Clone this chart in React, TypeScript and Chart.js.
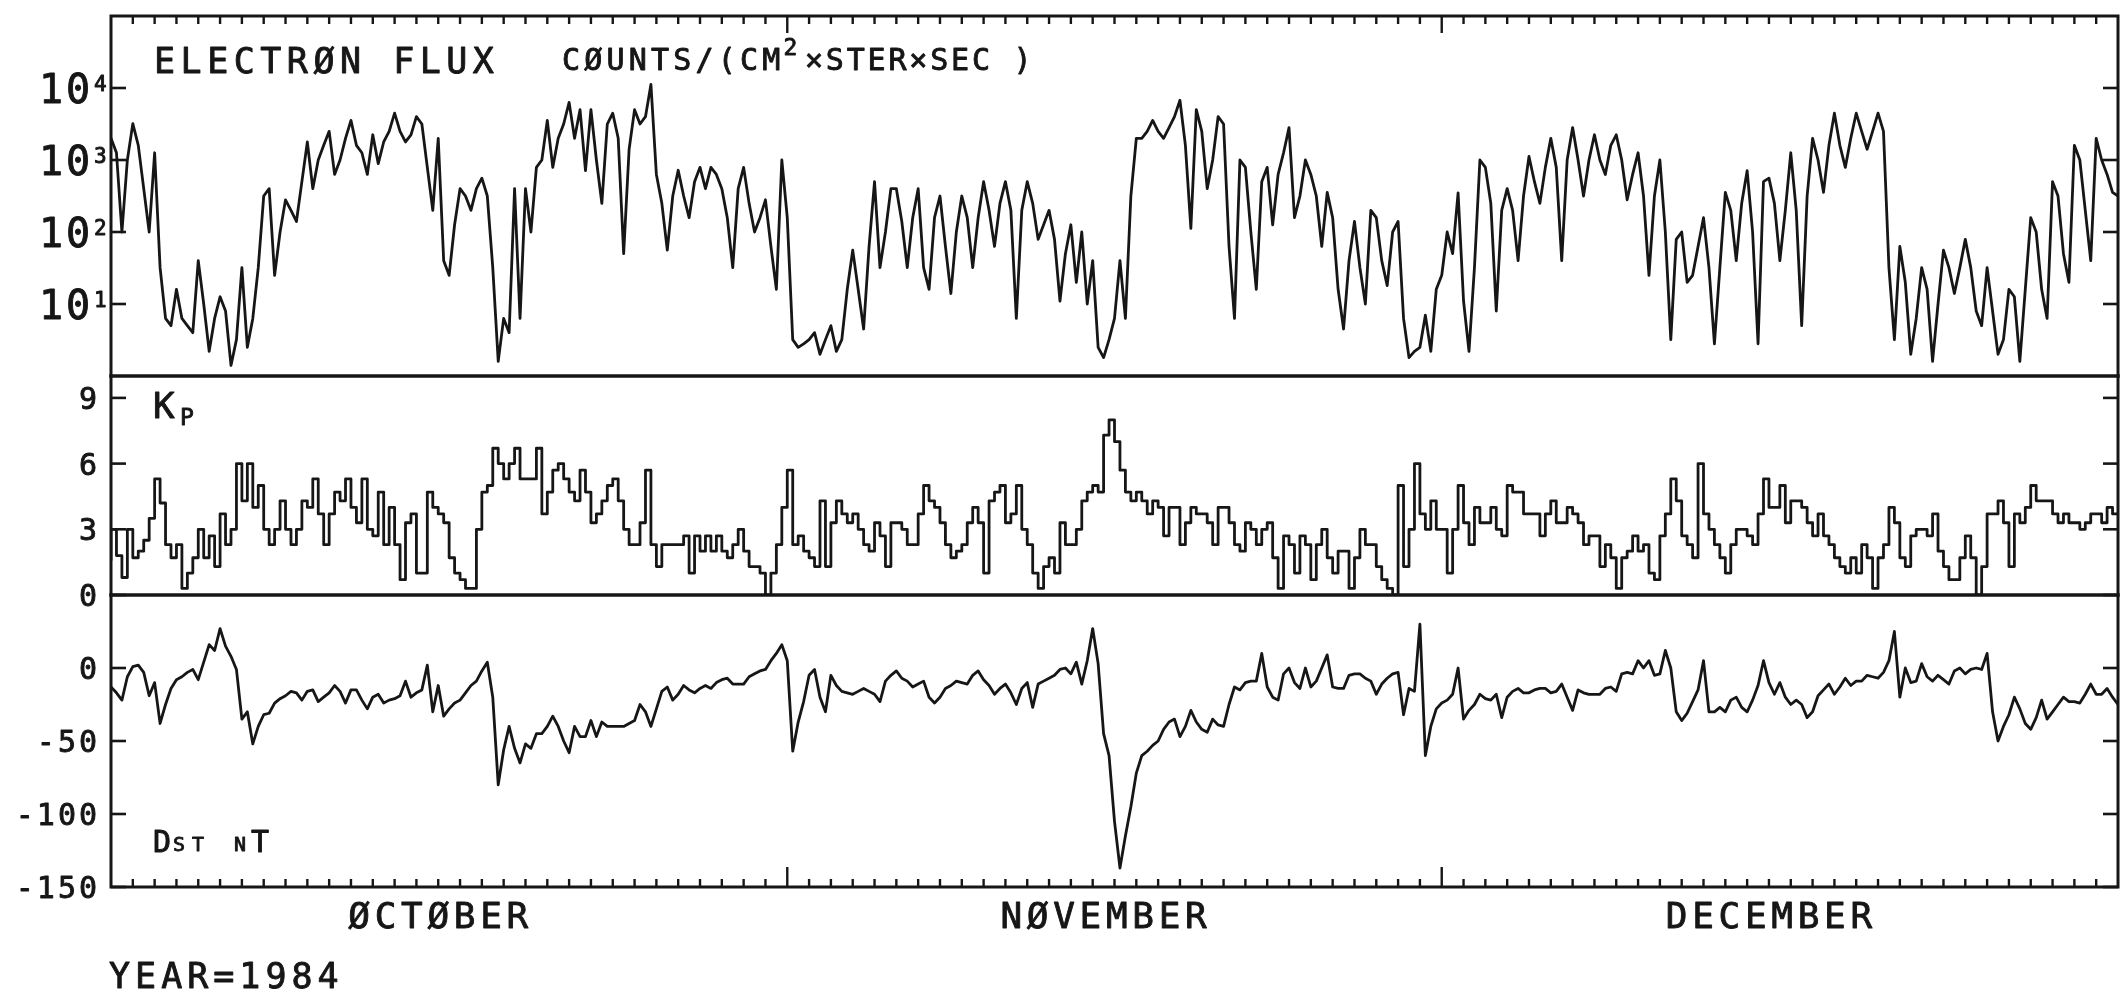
import { useEffect, useRef } from "react";
import { Chart, registerables } from "chart.js";

Chart.register(...registerables);

// ---------------- data ----------------
// one sample every 6 hours, starting 1984-10-01 00:00
const SAMPLES_PER_DAY = 4;
const YEAR_LABEL = "YEAR=1984";
const MONTHS = ["ØCTØBER", "NØVEMBER", "DECEMBER"];
const MONTH_START_DAY = [0, 31, 61];
const MONTH_LENGTH = [31, 30, 31];

const FLUX_TICKS = [10, 100, 1000, 10000];
const FLUX_TICK_BASE = ["10", "10", "10", "10"];
const FLUX_TICK_EXP = ["1", "2", "3", "4"];
const KP_TICKS = [0, 3, 6, 9];
const DST_TICKS = [0, -50, -100, -150];

// Electron flux, counts/(cm2 ster sec)
const fluxValues = [
  2000, 1260, 100, 1000, // Oct 1
  3200, 1600, 400, 100,
  1260, 32, 6.3, 5,
  16, 6.3, 5, 4,
  40, 10, 2.2, 6.3,
  12.6, 8, 1.4, 3.2,
  32, 2.5, 6.3, 32,
  316, 400, 25, 100,
  280, 200, 140, 500,
  1780, 400, 1000, 1600,
  2500, 630, 1000, 2000, // Oct 11
  3550, 1600, 1260, 630,
  2240, 890, 1780, 2500,
  4470, 2500, 1780, 2240,
  4000, 3160, 790, 200,
  2000, 40, 25, 126,
  400, 316, 200, 400,
  560, 316, 32, 1.6,
  6.3, 4, 400, 6.3,
  400, 100, 790, 1000,
  3550, 790, 2000, 3160, // Oct 21
  6300, 2000, 5000, 710,
  5000, 1000, 250, 3160,
  4470, 2000, 50, 1410,
  5000, 3160, 4000, 11200,
  630, 250, 56, 316,
  720, 316, 158, 500,
  790, 400, 790, 630,
  400, 158, 32, 400,
  790, 250, 100, 158,
  280, 63, 16, 1000, // Oct 31
  158, 3.2, 2.5, 2.8, // Nov 1
  3.2, 4, 2, 3.2,
  5, 2.2, 3.2, 16,
  56, 16, 4.5, 63,
  500, 32, 100, 400,
  400, 140, 32, 158,
  400, 32, 16, 158,
  316, 63, 14, 100,
  316, 158, 32, 158,
  500, 200, 63, 250, // Nov 10
  500, 200, 6.3, 200,
  500, 250, 79, 126,
  200, 79, 11, 50,
  126, 20, 100, 10,
  40, 2.5, 1.8, 3.2,
  6.3, 40, 6.3, 316,
  2000, 2000, 2500, 3550,
  2500, 2000, 2820, 4000,
  6760, 1600, 112, 5000,
  2500, 400, 1000, 4000, // Nov 20
  3160, 63, 6.3, 1000,
  790, 100, 16, 500,
  790, 126, 630, 1260,
  2820, 158, 316, 1000,
  630, 316, 63, 355,
  158, 16, 4.5, 40,
  140, 32, 10, 200,
  158, 40, 18, 100,
  140, 6.3, 1.8, 2.2,
  2.5, 7, 2.2, 16, // Nov 30
  25, 100, 50, 350, // Dec 1
  11, 2.2, 32, 1000,
  790, 250, 8, 200,
  400, 200, 40, 316,
  1120, 500, 250, 790,
  2000, 790, 40, 1000,
  2820, 1000, 316, 1000,
  2240, 1000, 630, 1600,
  2240, 1000, 280, 630,
  1260, 316, 25, 316, // Dec 10
  1000, 100, 3.2, 79,
  100, 20, 25, 63,
  158, 32, 2.8, 32,
  355, 200, 40, 250,
  710, 100, 2.8, 500,
  560, 250, 40, 200,
  1260, 200, 5, 316,
  2000, 1000, 355, 1600,
  4470, 1600, 790, 2000,
  4470, 2500, 1410, 2500, // Dec 20
  4470, 2500, 32, 3.2,
  63, 20, 2, 6.3,
  32, 16, 1.6, 10,
  56, 32, 14, 32,
  79, 32, 8, 5,
  32, 8, 2, 3.2,
  16, 12.6, 1.6, 16,
  158, 100, 16, 6.3,
  500, 316, 50, 20,
  1600, 1000, 200, 40, // Dec 30
  2000, 1000, 630, 355,
  316,
];

// Kp index
const kpValues = [
  1.6, 3.0, 1.8, 0.8, // Oct 1
  3.0, 1.7, 2.0, 2.5,
  3.5, 5.3, 4.2, 2.3,
  1.7, 2.3, 0.3, 1.0,
  1.7, 3.0, 1.7, 2.7,
  1.3, 3.7, 2.3, 3.0,
  6.0, 4.3, 6.0, 4.0,
  5.0, 3.0, 2.3, 3.0,
  4.3, 3.0, 2.3, 3.0,
  4.3, 4.0, 5.3, 3.7,
  2.3, 3.7, 4.7, 4.3, // Oct 11
  5.3, 4.0, 3.3, 5.3,
  3.0, 2.7, 4.7, 2.3,
  4.0, 2.3, 0.7, 3.3,
  3.7, 1.0, 1.0, 4.7,
  4.0, 3.7, 3.3, 1.7,
  1.0, 0.7, 0.3, 0.3,
  3.0, 4.7, 5.0, 6.7,
  6.0, 5.3, 6.0, 6.7,
  5.3, 5.3, 5.3, 6.7,
  3.7, 4.7, 5.7, 6.0, // Oct 21
  5.3, 4.7, 4.3, 5.7,
  4.7, 3.3, 3.7, 4.3,
  5.0, 5.3, 4.3, 3.0,
  2.3, 2.3, 3.3, 5.7,
  2.3, 1.3, 2.3, 2.3,
  2.3, 2.3, 2.7, 1.0,
  2.7, 2.0, 2.7, 2.0,
  2.7, 2.0, 1.7, 2.3,
  3.0, 2.0, 1.3, 1.3,
  1.0, 0.0, 1.0, 2.3, // Oct 31
  4.0, 5.7, 2.3, 2.7, // Nov 1
  2.0, 1.7, 1.3, 4.3,
  1.3, 3.3, 4.3, 3.7,
  3.3, 3.7, 3.0, 2.3,
  2.0, 3.3, 2.7, 1.3,
  3.3, 3.3, 3.0, 2.3,
  2.3, 3.7, 5.0, 4.3,
  4.0, 3.3, 2.3, 1.7,
  2.0, 2.3, 3.3, 4.0,
  3.3, 1.0, 4.3, 4.7, // Nov 10
  5.0, 3.3, 3.7, 5.0,
  3.0, 2.3, 1.0, 0.3,
  1.3, 1.7, 1.0, 3.3,
  2.3, 2.3, 3.0, 4.3,
  4.7, 5.0, 4.7, 7.3,
  8.0, 7.0, 5.7, 4.7,
  4.3, 4.7, 4.3, 3.7,
  4.3, 4.0, 2.7, 4.0,
  4.0, 2.3, 3.3, 4.0,
  3.7, 3.7, 3.3, 2.3, // Nov 20
  4.0, 4.0, 3.3, 2.3,
  2.0, 3.3, 3.0, 2.3,
  3.0, 3.3, 1.7, 0.3,
  2.7, 2.3, 1.0, 2.7,
  2.3, 0.7, 2.3, 3.0,
  1.7, 1.0, 2.0, 2.0,
  0.3, 1.7, 3.0, 2.3,
  2.3, 1.3, 0.7, 0.3,
  0.0, 5.0, 1.3, 3.0,
  6.0, 3.7, 3.0, 4.3, // Nov 30
  3.0, 3.0, 1.0, 3.0, // Dec 1
  5.0, 3.3, 2.3, 4.0,
  3.3, 3.3, 4.0, 3.0,
  2.7, 5.0, 4.7, 4.7,
  3.7, 3.7, 3.7, 2.7,
  3.7, 4.3, 3.3, 3.3,
  4.0, 3.7, 3.3, 2.3,
  2.7, 2.7, 1.3, 2.3,
  1.7, 0.3, 1.7, 2.0,
  2.7, 2.0, 2.3, 1.0, // Dec 10
  0.7, 2.7, 3.7, 5.3,
  4.3, 2.7, 2.3, 1.7,
  6.0, 3.7, 3.0, 2.3,
  1.7, 1.0, 2.3, 3.0,
  3.0, 2.7, 2.3, 3.7,
  5.3, 4.0, 4.0, 5.0,
  3.3, 4.3, 4.3, 4.0,
  3.3, 2.7, 3.7, 2.7,
  2.3, 1.7, 1.3, 1.0,
  1.7, 1.0, 2.3, 1.7, // Dec 20
  0.3, 1.7, 2.3, 4.0,
  3.3, 1.7, 1.3, 2.7,
  3.0, 3.0, 2.7, 3.7,
  2.0, 1.3, 0.7, 0.7,
  1.7, 2.7, 1.7, 0.0,
  1.3, 3.7, 3.7, 4.3,
  3.3, 1.3, 3.7, 3.3,
  4.0, 5.0, 4.3, 4.3,
  4.3, 3.7, 3.3, 3.7,
  3.3, 3.3, 3.0, 3.3, // Dec 30
  3.7, 3.7, 3.3, 4.0,
  3.7,
];

// Dst index, nT
const dstValues = [
  -13, -17, -22, -6, // Oct 1
  1, 2, -3, -19,
  -10, -38, -25, -14,
  -8, -6, -3, -1,
  -8, 4, 16, 12,
  27, 15, 8, -1,
  -35, -30, -52, -40,
  -32, -31, -24, -21,
  -19, -16, -17, -22,
  -16, -15, -23, -20,
  -17, -12, -16, -24, // Oct 11
  -15, -15, -22, -28,
  -20, -18, -24, -22,
  -21, -19, -9, -20,
  -17, -15, 2, -30,
  -12, -33, -28, -24,
  -22, -17, -12, -9,
  -2, 4, -20, -80,
  -56, -40, -55, -65,
  -52, -55, -45, -45,
  -40, -33, -40, -50, // Oct 21
  -58, -40, -47, -47,
  -36, -47, -37, -40,
  -40, -40, -40, -38,
  -36, -25, -30, -40,
  -28, -16, -13, -22,
  -18, -12, -15, -17,
  -14, -12, -14, -10,
  -8, -7, -11, -11,
  -11, -6, -4, -2,
  -1, 5, 10, 16, // Oct 31
  5, -57, -37, -23, // Nov 1
  -5, -1, -20, -30,
  -5, -12, -16, -17,
  -18, -16, -14, -16,
  -18, -23, -9, -5,
  -2, -7, -9, -13,
  -11, -9, -20, -24,
  -20, -14, -12, -9,
  -10, -11, -5, -2,
  -8, -12, -18, -14, // Nov 10
  -11, -17, -25, -14,
  -10, -27, -11, -9,
  -7, -5, -1, 0,
  -4, 4, -11, 5,
  27, 3, -45, -60,
  -105, -137, -115, -95,
  -72, -60, -57, -53,
  -50, -42, -37, -35,
  -47, -40, -29, -37,
  -42, -44, -35, -39, // Nov 20
  -40, -25, -13, -15,
  -10, -9, -9, 10,
  -13, -20, -22, -4,
  0, -10, -14, 0,
  -13, -9, 0, 9,
  -13, -14, -14, -5,
  -4, -4, -7, -9,
  -18, -11, -7, -4,
  -3, -32, -14, -16,
  30, -60, -40, -28, // Nov 30
  -24, -22, -18, 0, // Dec 1
  -35, -29, -25, -18,
  -21, -22, -18, -34,
  -20, -16, -14, -17,
  -17, -15, -14, -14,
  -17, -16, -11, -20,
  -29, -15, -17, -18,
  -18, -18, -14, -13,
  -16, -4, -3, -4,
  5, 0, 5, -5, // Dec 10
  -4, 12, 0, -30,
  -36, -31, -23, -15,
  5, -30, -30, -27,
  -30, -22, -20, -27,
  -30, -22, -12, 5,
  -10, -18, -10, -20,
  -25, -22, -25, -34,
  -30, -19, -15, -11,
  -18, -13, -7, -12,
  -9, -9, -5, -6, // Dec 20
  -7, -3, 5, 25,
  -20, 0, -10, -9,
  3, -6, -9, -5,
  -8, -11, -2, 0,
  -4, -1, 0, -1,
  10, -30, -50, -40,
  -32, -20, -28, -38,
  -42, -34, -22, -35,
  -30, -25, -20, -23,
  -23, -24, -18, -11, // Dec 30
  -18, -18, -14, -20,
  -25,
];

// ---------------- drawing ----------------
const INK = "#161616";
const FONT = "'DejaVu Sans Mono', 'Liberation Mono', monospace";
const TOTAL_DAYS = MONTH_LENGTH.reduce((a, b) => a + b, 0);

const toPoints = (values: number[]) =>
  values.map((v, i) => ({ x: i / SAMPLES_PER_DAY, y: v }));

function drawText(
  ctx: CanvasRenderingContext2D,
  text: string,
  x: number,
  y: number,
  size: number,
  spacing: number,
  align: "left" | "center" | "right" = "left"
) {
  ctx.font = `${size}px ${FONT}`;
  (ctx as any).letterSpacing = `${spacing}px`;
  ctx.textAlign = "left";
  ctx.textBaseline = "alphabetic";
  const w = ctx.measureText(text).width - spacing;
  let dx = x;
  if (align === "center") dx = x - w / 2;
  if (align === "right") dx = x - w;
  ctx.fillText(text, dx, y);
  ctx.lineWidth = 0.9;
  ctx.lineJoin = "round";
  ctx.strokeText(text, dx, y);
  return dx + w;
}

const framePlugin = {
  id: "plotterFrame",
  afterDatasetsDraw(chart: any) {
    const ctx: CanvasRenderingContext2D = chart.ctx;
    const xs = chart.scales.x;
    const yF = chart.scales.yFlux;
    const yK = chart.scales.yKp;
    const yD = chart.scales.yDst;
    const L = xs.left;
    const R = xs.right;
    const T = yF.top;
    const B = yD.bottom;

    const seg = (x1: number, y1: number, x2: number, y2: number) => {
      ctx.beginPath();
      ctx.moveTo(x1, y1);
      ctx.lineTo(x2, y2);
      ctx.stroke();
    };

    ctx.save();
    ctx.strokeStyle = INK;
    ctx.fillStyle = INK;
    ctx.lineCap = "square";

    // frame and panel separators
    ctx.lineWidth = 3;
    ctx.strokeRect(L, T, R - L, B - T);
    ctx.lineWidth = 3.5;
    seg(L, yF.bottom, R, yF.bottom);
    seg(L, yK.bottom, R, yK.bottom);

    // day ticks (top of flux panel, bottom of Dst panel)
    ctx.lineCap = "butt";
    ctx.lineWidth = 2.4;
    for (let d = 1; d < TOTAL_DAYS; d++) {
      const px = xs.getPixelForValue(d);
      const major = MONTH_START_DAY.includes(d);
      seg(px, T, px, T + (major ? 17 : 8));
      seg(px, B, px, B - (major ? 20 : 8));
    }

    // value ticks on both sides
    ctx.lineWidth = 2.6;
    const valueTick = (scale: any, v: number) => {
      const py = scale.getPixelForValue(v);
      seg(L, py, L + 15, py);
      seg(R, py, R - 15, py);
    };
    FLUX_TICKS.forEach((v) => valueTick(yF, v));
    KP_TICKS.forEach((v) => valueTick(yK, v));
    DST_TICKS.forEach((v) => valueTick(yD, v));

    // tick labels
    FLUX_TICKS.forEach((v, i) => {
      const py = yF.getPixelForValue(v);
      drawText(ctx, FLUX_TICK_BASE[i], 39, py + 15, 40, 3);
      drawText(ctx, FLUX_TICK_EXP[i], 94, py + 3, 21, 0);
    });
    KP_TICKS.forEach((v) => {
      const py = yK.getPixelForValue(v);
      drawText(ctx, String(v), 97, py + 11, 30, 0, "right");
    });
    DST_TICKS.forEach((v) => {
      const py = yD.getPixelForValue(v);
      drawText(ctx, String(v), 97, py + 11, 30, 3, "right");
    });

    // panel titles
    drawText(ctx, "ELECTRØN FLUX", 154, 73, 35, 5.5);
    const cx = drawText(ctx, "CØUNTS/(CM", 562, 70, 30, 4.2);
    drawText(ctx, "2", cx + 3, 55, 23, 0);
    drawText(ctx, "×STER×SEC )", 805, 70, 30, 2.8);

    drawText(ctx, "K", 153, 418, 36, 0);
    drawText(ctx, "P", 180, 425, 23, 0);

    drawText(ctx, "D", 153, 852, 30, 0);
    drawText(ctx, "ST", 173, 851, 20, 7);
    drawText(ctx, "N", 234, 851, 20, 0);
    drawText(ctx, "T", 251, 852, 30, 0);

    // month labels, centred on each month
    MONTHS.forEach((m, i) => {
      const centreDay = MONTH_START_DAY[i] + (MONTH_LENGTH[i] - 1) / 2;
      drawText(ctx, m, xs.getPixelForValue(centreDay), 928, 36, 4.7, "center");
    });
    drawText(ctx, YEAR_LABEL, 109, 988, 35, 5);

    ctx.restore();
  },
};

export default function App() {
  const canvasRef = useRef<HTMLCanvasElement | null>(null);

  useEffect(() => {
    if (!canvasRef.current) return;
    const lineStyle = {
      borderColor: INK,
      borderWidth: 2.8,
      pointRadius: 0,
      tension: 0,
      fill: false,
      borderJoinStyle: "round" as const,
      borderCapStyle: "round" as const,
    };
    const chart = new Chart(canvasRef.current, {
      type: "line",
      data: {
        datasets: [
          { ...lineStyle, label: "Electron flux", data: toPoints(fluxValues), yAxisID: "yFlux" },
          { ...lineStyle, label: "Kp", data: toPoints(kpValues), yAxisID: "yKp", stepped: "after" as const },
          { ...lineStyle, label: "Dst nT", data: toPoints(dstValues), yAxisID: "yDst" },
        ],
      },
      options: {
        animation: false,
        responsive: true,
        maintainAspectRatio: false,
        events: [],
        layout: { padding: { left: 111, right: 4, top: 16, bottom: 109 } },
        plugins: { legend: { display: false }, tooltip: { enabled: false } },
        scales: {
          x: { type: "linear", min: 0, max: TOTAL_DAYS, display: false },
          yFlux: {
            type: "logarithmic", min: 1, max: 100000, display: false,
            position: "left", stack: "panels", stackWeight: 360, weight: 3,
          },
          yKp: {
            type: "linear", min: 0, max: 10, display: false,
            position: "left", stack: "panels", stackWeight: 219, weight: 2,
          },
          yDst: {
            type: "linear", min: -150, max: 50, display: false,
            position: "left", stack: "panels", stackWeight: 292, weight: 1,
          },
        } as any,
      },
      plugins: [framePlugin],
    });
    return () => chart.destroy();
  }, []);

  return (
    <div style={{ position: "fixed", left: 0, top: 0, width: 2122, height: 996, background: "#fff" }}>
      <canvas ref={canvasRef} />
    </div>
  );
}
